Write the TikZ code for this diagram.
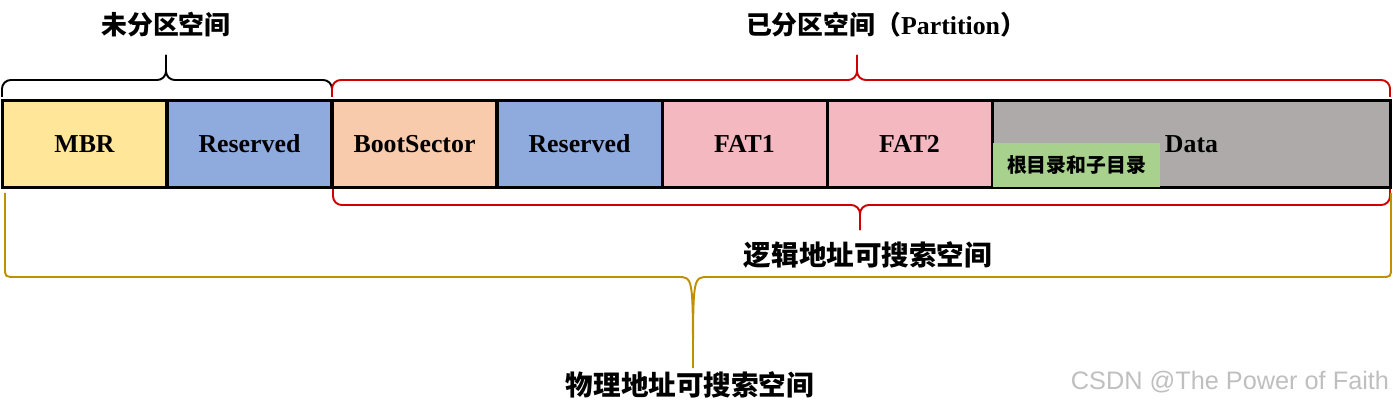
\documentclass[tikz,border=0pt]{standalone}
\usepackage{fontspec}
\setmainfont{Liberation Serif}
\setsansfont{Liberation Sans}
\newfontfamily\cjk{Noto Sans CJK SC}
\usetikzlibrary{positioning}
\usetikzlibrary{calc}
\definecolor{jaune}{HTML}{FFE699}
\definecolor{bleu}{HTML}{8FAADC}
\definecolor{peche}{HTML}{F8CBAD}
\definecolor{rose}{HTML}{F4B8C0}
\definecolor{gris}{HTML}{AEAAAA}
\definecolor{vert}{HTML}{A9D18E}
\definecolor{rouge}{HTML}{D00000}
\definecolor{or}{HTML}{BF9000}
\tikzstyle{bloc}=[
        draw,
        line width=1.7pt,
        minimum width=3.3cm,
        minimum height=1.76cm,
        inner sep=0pt,
        outer sep=0pt,
        font=\fontsize{14.7}{17}\selectfont\bfseries
]
\tikzstyle{titre}=[font=\cjk\bfseries\fontsize{14.7}{17}\selectfont]
\tikzstyle{soustitre}=[font=\cjk\bfseries\fontsize{15.7}{18}\selectfont]
\tikzstyle{accolade}=[line width=1.1pt,rounded corners=5pt]

\begin{document}
\begin{tikzpicture}[x=0.02cm,y=-0.02cm]
\useasboundingbox (0,0) rectangle (1395,405);
\node[bloc,fill=jaune] (mbr) at (84.5,144) {MBR};
\node[bloc,fill=bleu] (resa) at (249.5,144) {Reserved};
\node[bloc,fill=peche] (boot) at (414.5,144) {BootSector};
\node[bloc,fill=bleu] (resb) at (579.5,144) {Reserved};
\node[bloc,fill=rose] (fat1) at (744.5,144) {FAT1};
\node[bloc,fill=rose] (fat2) at (909.5,144) {FAT2};
\node[bloc,fill=gris,minimum width=7.98cm] (data) at (1191.5,144) {Data};
\node[fill=vert,minimum width=3.34cm,minimum height=0.88cm,inner sep=0pt,
      font=\cjk\bfseries\fontsize{11.3}{13}\selectfont] (racine) at (1076.5,165) {根目录和子目录};
%Titres
\node[titre] (nonpart) at (166,25) {未分区空间};
\node[titre] (part) at (886,25) {已分区空间（{\rmfamily Partition}）};
\node[soustitre] (logique) at (868,255) {逻辑地址可搜索空间};
\node[soustitre] (physique) at (690,385) {物理地址可搜索空间};
\node[font=\sffamily\fontsize{14.4}{17}\selectfont,text=gray!50] (csdn) at (1230,382) {CSDN @The Power of Faith};
%Accolades
\draw[accolade] (2,97) |- (166,80) -- (166,55);
\draw[accolade] (166,55) -- (166,80) -| (332,97);
\draw[accolade,rouge] (332,97) |- (857,80) -- (857,55);
\draw[accolade,rouge] (857,55) -- (857,80) -| (1390,97);
\draw[accolade,rouge] (333,189) |- (860,205) -- (860,230);
\draw[accolade,rouge] (860,230) -- (860,205) -| (1390,189);
\draw[line width=1.1pt,or] (5,193) -- (5,267) .. controls (5,277) .. (16,277)
  -- (678,277) .. controls (693,277) .. (693,368)
  .. controls (693,277) .. (708,277) -- (1381,277)
  .. controls (1391,277) .. (1391,267) -- (1391,193);
\end{tikzpicture}
\end{document}
